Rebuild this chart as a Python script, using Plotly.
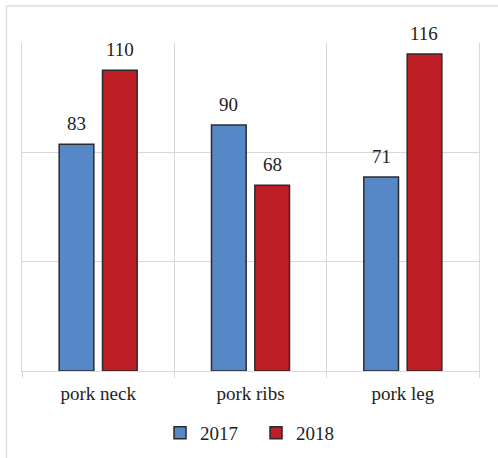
import plotly.graph_objects as go

# Data
categories = ["pork neck", "pork ribs", "pork leg"]
series_names = ["2017", "2018"]
values_2017 = [83, 90, 71]
values_2018 = [110, 68, 116]
colors = ["#5688C8", "#BE1E26"]

FONT = "Liberation Serif"
GRID = "#d9d9d9"

fig = go.Figure()
for name, vals, col in zip(series_names, [values_2017, values_2018], colors):
    fig.add_trace(go.Bar(
        x=categories, y=vals, name=name,
        marker=dict(color=col, line=dict(color="#2b2b2b", width=1.5)),
        offsetgroup=name,
    ))

# Value labels above each bar
annotations = []
for i, (name, vals) in enumerate(zip(series_names, [values_2017, values_2018])):
    off = -0.142 if i == 0 else 0.142
    for j, v in enumerate(vals):
        annotations.append(dict(
            x=j + off, y=v, xref="x", yref="y", text=str(v), showarrow=False,
            yanchor="bottom", yshift=8, font=dict(family=FONT, size=19, color="#222"),
        ))

# Outer chart border (left and top edges)
shapes = [
    dict(type="line", xref="paper", yref="paper", x0=-0.034, x1=-0.034, y0=-0.3, y1=1.113,
         line=dict(color=GRID, width=1.2)),
    dict(type="line", xref="paper", yref="paper", x0=-0.034, x1=1.1, y0=1.113, y1=1.113,
         line=dict(color=GRID, width=1.2)),
]

fig.update_layout(
    width=498, height=458,
    margin=dict(l=22, r=19, t=43, b=87, autoexpand=False),
    paper_bgcolor="white", plot_bgcolor="white",
    barmode="group", bargap=0.431, bargroupgap=0.2,
    font=dict(family=FONT, size=19, color="#222"),
    showlegend=True,
    legend=dict(orientation="h", x=0.302, xanchor="left",
                yref="container", y=0.0546, yanchor="middle",
                entrywidth=51, entrywidthmode="pixels",
                font=dict(family=FONT, size=19, color="#222")),
    annotations=annotations,
    shapes=shapes,
)
fig.update_xaxes(
    type="category", tickson="boundaries", ticks="outside", ticklen=6,
    tickcolor=GRID, showgrid=True, gridcolor=GRID, showline=True, linecolor=GRID,
    mirror=False, range=[-0.5, 2.5], ticklabelstandoff=5,
    tickfont=dict(family=FONT, size=19, color="#222"),
)
fig.update_yaxes(
    range=[0, 120], dtick=40, showgrid=True, gridcolor=GRID, showticklabels=False,
    zeroline=False, showline=True, linecolor=GRID, mirror=True,
)

fig.write_html("out.html")
